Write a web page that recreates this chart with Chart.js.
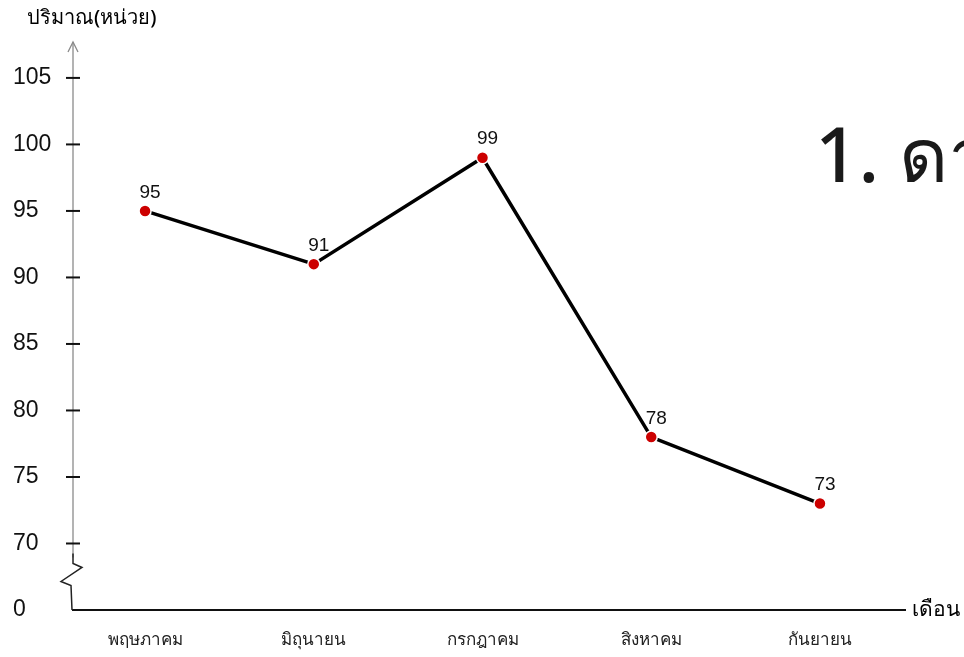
<!DOCTYPE html>
<html>
<head>
<meta charset="utf-8">
<script src="https://cdn.jsdelivr.net/npm/chart.js@4"></script>
<style>
  html, body { margin: 0; padding: 0; background: #fff; }
  #wrap { position: relative; width: 964px; height: 657px; overflow: hidden; }
  #heading {
    position: absolute; left: 815px; top: 95px;
    font: 500 76px "Noto Sans", "DejaVu Sans", sans-serif; color: #1a1a1a;
    white-space: nowrap;
  }
</style>
</head>
<body>
<div id="wrap">
  <canvas id="lineChart" width="964" height="657"></canvas>
  <div id="heading">1. ดา</div>
</div>
<script>
// data
const months = ['พฤษภาคม', 'มิถุนายน', 'กรกฎาคม', 'สิงหาคม', 'กันยายน'];
const amounts = [95, 91, 99, 78, 73];
// 65 stands in for the broken-axis "0"
const yTicks = [65, 70, 75, 80, 85, 90, 95, 100, 105];
const yTickLabels = ['0', '70', '75', '80', '85', '90', '95', '100', '105'];

const yAxisTitle = 'ปริมาณ(หน่วย)';
const xAxisTitle = 'เดือน';

// axis line with arrow, zigzag break, crossing ticks, point labels
const decorPlugin = {
  id: 'decor',
  afterDraw(chart) {
    const ctx = chart.ctx;
    const y = chart.scales.y;
    const area = chart.chartArea;
    const ax = area.left;
    const y65 = y.getPixelForValue(65);
    const y70 = y.getPixelForValue(70);

    ctx.save();
    // y axis line
    ctx.strokeStyle = '#8a8a8a';
    ctx.lineWidth = 1.3;
    ctx.beginPath();
    ctx.moveTo(ax, area.top);
    ctx.lineTo(ax, y70 + 14);
    ctx.stroke();
    // arrow head
    ctx.beginPath();
    ctx.moveTo(ax - 5, area.top + 10);
    ctx.lineTo(ax, area.top);
    ctx.lineTo(ax + 5, area.top + 10);
    ctx.stroke();

    // zigzag break
    ctx.strokeStyle = '#222';
    ctx.lineWidth = 1.5;
    ctx.beginPath();
    ctx.moveTo(ax, y70 + 10);
    ctx.lineTo(ax, y70 + 20);
    ctx.lineTo(ax + 9, y70 + 24);
    ctx.lineTo(ax - 12, y70 + 38);
    ctx.lineTo(ax - 2, y70 + 42);
    ctx.lineTo(ax - 1, y65);
    ctx.stroke();

    // tick marks crossing the axis
    ctx.strokeStyle = '#111';
    ctx.lineWidth = 2;
    yTicks.slice(1).forEach(v => {
      const py = y.getPixelForValue(v);
      ctx.beginPath();
      ctx.moveTo(ax - 7, py);
      ctx.lineTo(ax + 7, py);
      ctx.stroke();
    });

    // axis titles
    ctx.fillStyle = '#000';
    ctx.textAlign = 'left';
    ctx.textBaseline = 'middle';
    ctx.font = '500 20px "Noto Sans", "DejaVu Sans", sans-serif';
    ctx.fillText(yAxisTitle, 27, 18);
    ctx.font = '500 21px "Noto Sans", "DejaVu Sans", sans-serif';
    ctx.fillText(xAxisTitle, area.right + 7, area.bottom);

    // value labels
    const meta = chart.getDatasetMeta(0);
    ctx.fillStyle = '#111';
    ctx.font = '19px "Liberation Sans", Arial, sans-serif';
    ctx.textAlign = 'center';
    ctx.textBaseline = 'bottom';
    meta.data.forEach((pt, i) => {
      ctx.fillText(String(amounts[i]), pt.x + 5, pt.y - 9);
    });
    ctx.restore();
  }
};

new Chart(document.getElementById('lineChart').getContext('2d'), {
  type: 'line',
  data: {
    datasets: [{
      data: amounts.map((v, i) => ({ x: i, y: v })),
      borderColor: '#000',
      borderWidth: 3.5,
      tension: 0,
      pointRadius: 6,
      pointBackgroundColor: '#cc0000',
      pointBorderColor: '#fff',
      pointBorderWidth: 1.5,
      clip: false
    }]
  },
  options: {
    responsive: false,
    animation: false,
    layout: { padding: { top: 42, right: 59, left: 13, bottom: 0 } },
    plugins: { legend: { display: false }, tooltip: { enabled: false } },
    scales: {
      x: {
        type: 'linear',
        min: -0.427,
        max: 4.504,
        afterBuildTicks: s => { s.ticks = months.map((m, i) => ({ value: i })); },
        afterFit: s => { s.height = 47; },
        grid: { display: false, drawTicks: false },
        border: { display: true, color: '#111', width: 2 },
        ticks: {
          callback: v => months[v],
          padding: 20,
          color: '#222',
          font: { size: 17, weight: '500', family: '"Noto Sans", "DejaVu Sans", sans-serif' }
        }
      },
      y: {
        min: 65,
        max: 107.7,
        afterBuildTicks: s => { s.ticks = yTicks.map(v => ({ value: v })); },
        afterFit: s => { s.width = 60; },
        grid: { display: false, drawTicks: false },
        border: { display: false },
        ticks: {
          callback: v => yTickLabels[yTicks.indexOf(v)],
          crossAlign: 'far',
          padding: 13,
          color: '#111',
          font: { size: 23, family: '"Liberation Sans", Arial, sans-serif' }
        }
      }
    }
  },
  plugins: [decorPlugin]
});
</script>
</body>
</html>
